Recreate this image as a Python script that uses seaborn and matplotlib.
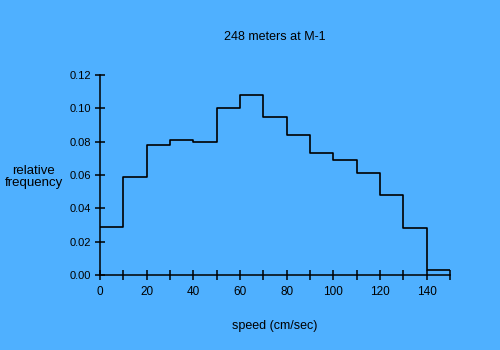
import matplotlib
matplotlib.use("Agg")
import matplotlib.pyplot as plt
import seaborn as sns
import numpy as np

# Speed histogram: 10 cm/sec bins from 0 to 150
bin_left = [0, 10, 20, 30, 40, 50, 60, 70, 80, 90, 100, 110, 120, 130, 140]
rel_freq = [0.029, 0.059, 0.078, 0.081, 0.080, 0.100, 0.108, 0.095,
            0.084, 0.073, 0.069, 0.061, 0.048, 0.028, 0.003]
bin_edges = [0, 10, 20, 30, 40, 50, 60, 70, 80, 90, 100, 110, 120, 130, 140, 150]
x_major = [0, 20, 40, 60, 80, 100, 120, 140]
x_minor = [10, 30, 50, 70, 90, 110, 130, 150]
y_ticks = [0.00, 0.02, 0.04, 0.06, 0.08, 0.10, 0.12]

bg = "#4fb0ff"
sns.set_style("ticks")
plt.rcParams["font.family"] = ["Liberation Sans", "DejaVu Sans"]

fig = plt.figure(figsize=(5, 3.5), dpi=100, facecolor=bg)
ax = fig.add_axes([0.2, 0.214, 0.7, 0.572], facecolor=bg)

sns.histplot(x=[b + 5 for b in bin_left], weights=rel_freq, bins=bin_edges,
             element="step", fill=False, color="black", linewidth=1.2, ax=ax)

ax.set_xlim(0, 150)
ax.set_ylim(0, 0.12)
ax.set_xticks(x_major)
ax.set_xticks(x_minor, minor=True)
ax.set_yticks(y_ticks)
ax.set_yticklabels([f"{v:.2f}" for v in y_ticks])
ax.tick_params(which="both", direction="inout", length=7, width=1.1,
               color="black", labelcolor="black")
ax.tick_params(axis="x", labelsize=8.5, pad=4)
ax.tick_params(axis="y", labelsize=8, pad=3)

for side in ("top", "right"):
    ax.spines[side].set_visible(False)
for side in ("left", "bottom"):
    ax.spines[side].set_color("black")
    ax.spines[side].set_linewidth(1.1)

ax.set_title("248 meters at M-1", fontsize=9, color="black", pad=25)
ax.set_xlabel("speed (cm/sec)", fontsize=9, color="black", labelpad=16)
ax.set_ylabel("relative\nfrequency", fontsize=9.5, color="black",
              rotation=0, ha="center", va="center", linespacing=1.0)
ax.yaxis.set_label_coords(-0.189, 0.49)

fig.savefig("out.png", dpi=100, facecolor=bg)
